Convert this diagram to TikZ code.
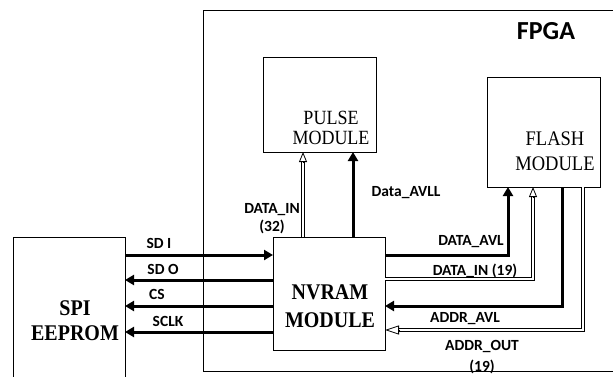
\documentclass[tikz,border=0pt]{standalone}
\usepackage{graphicx}
\usepackage{fontspec}
\setmainfont{Liberation Serif}
\newfontfamily\labfont{Carlito}
\usetikzlibrary{arrows.meta}
\newcommand{\vstr}[1]{\scalebox{1}[1.12]{#1}}
\begin{document}
\begin{tikzpicture}[x=1pt,y=-1pt,
 box/.style={draw, line width=0.9pt, inner sep=0pt, outer sep=0pt, anchor=north west},
 lab/.style={font=\labfont\bfseries\fontsize{15.5}{18}\selectfont, inner sep=0pt, align=center},
 thk/.style={line width=3pt, -{Triangle[length=9pt,width=10pt]}},
 dbl/.style={draw, line width=0.8pt, double=white, double distance=2.4pt},
 ohead/.style={line width=0.8pt, -{Triangle[open,length=10pt,width=8pt]}},
]
\useasboundingbox (0,0) rectangle (613,376);
\fill[white] (0,0) rectangle (613,376);
\clip (0,0) rectangle (613,376);

% boxes
\node[box, minimum width=417pt, minimum height=361pt] (fpga) at (203,10) {};
\node[box, minimum width=112pt, minimum height=150pt] (spi) at (13,237) {};
\node[box, minimum width=112pt, minimum height=113pt] (nv) at (273,237) {};
\node[box, minimum width=113pt, minimum height=95pt] (pulse) at (263,57) {};
\node[box, minimum width=113pt, minimum height=110pt] (flash) at (487,77) {};

% box texts
\node[font=\labfont\bfseries\fontsize{26}{26}\selectfont, inner sep=0pt] (fpgat) at (546,31) {FPGA};
\node[font=\fontsize{18}{20}\selectfont, align=center, inner sep=0pt] (pulset) at (331,128) {\vstr{PULSE}\\\vstr{MODULE}};
\node[font=\fontsize{18.5}{25}\selectfont, align=center, inner sep=0pt] (flasht) at (555,151) {\vstr{FLASH}\\\vstr{MODULE}};
\node[font=\bfseries\fontsize{20}{28}\selectfont, align=center, inner sep=0pt] (nvt) at (330,306) {\vstr{NVRAM}\\\vstr{MODULE}};
\node[font=\bfseries\fontsize{20}{25}\selectfont, align=center, inner sep=0pt] (spit) at (75,321) {\vstr{SPI}\\\vstr{EEPROM}};

% NVRAM <-> PULSE
\coordinate (p1) at ([xshift=30pt]nv.north west);
\coordinate (p1e) at (p1 |- pulse.south);
\draw[dbl, shorten >=9pt] (p1) -- (p1e);
\draw[ohead] ([yshift=-11pt]p1e) -- (p1e);
\coordinate (p2) at ([xshift=80pt]nv.north west);
\draw[thk] (p2) -- (p2 |- pulse.south);

% SPI <-> NVRAM
\draw[thk] (spi.east |- 0,255) -- (nv.west |- 0,255);
\draw[thk] (nv.west |- 0,280) -- (spi.east |- 0,280);
\draw[thk] (nv.west |- 0,306) -- (spi.east |- 0,306);
\draw[thk] (nv.west |- 0,332) -- (spi.east |- 0,332);

% NVRAM <-> FLASH
\coordinate (f1) at (508,0 |- flash.south);
\draw[thk] (nv.east |- 0,255) -| (f1);
\coordinate (f2) at (533,0 |- flash.south);
\draw[dbl, shorten >=9pt] (nv.east |- 0,279) -| (f2);
\draw[ohead] ([yshift=-11pt]f2) -- (f2);
\coordinate (f3) at (562,0 |- flash.south);
\draw[thk] (f3) |- (nv.east |- 0,306);
\coordinate (f4) at (583,0 |- flash.south);
\coordinate (a4) at (nv.east |- 0,330);
\draw[dbl, shorten >=13pt] (f4) |- (a4);
\draw[ohead, -{Triangle[open,length=14pt,width=9pt]}] ([xshift=15pt]a4) -- (a4);

% labels
\node[lab] (l1) at (272,219) {DATA\_IN\\(32)};
\node[lab] (l2) at (406,193) {Data\_AVLL};
\node[lab] (l3) at (159,243) {SD I};
\node[lab] (l4) at (163,269) {SD O};
\node[lab] (l5) at (157,294) {CS};
\node[lab] (l6) at (168,321) {SCLK};
\node[lab] (l7) at (471,242) {DATA\_AVL};
\node[lab] (l8) at (475,271) {DATA\_IN (19)};
\node[lab] (l9) at (465,319) {ADDR\_AVL};
\node[lab, font=\labfont\bfseries\fontsize{15.5}{21}\selectfont] (l10) at (482,357) {ADDR\_OUT\\(19)};
\end{tikzpicture}
\end{document}
